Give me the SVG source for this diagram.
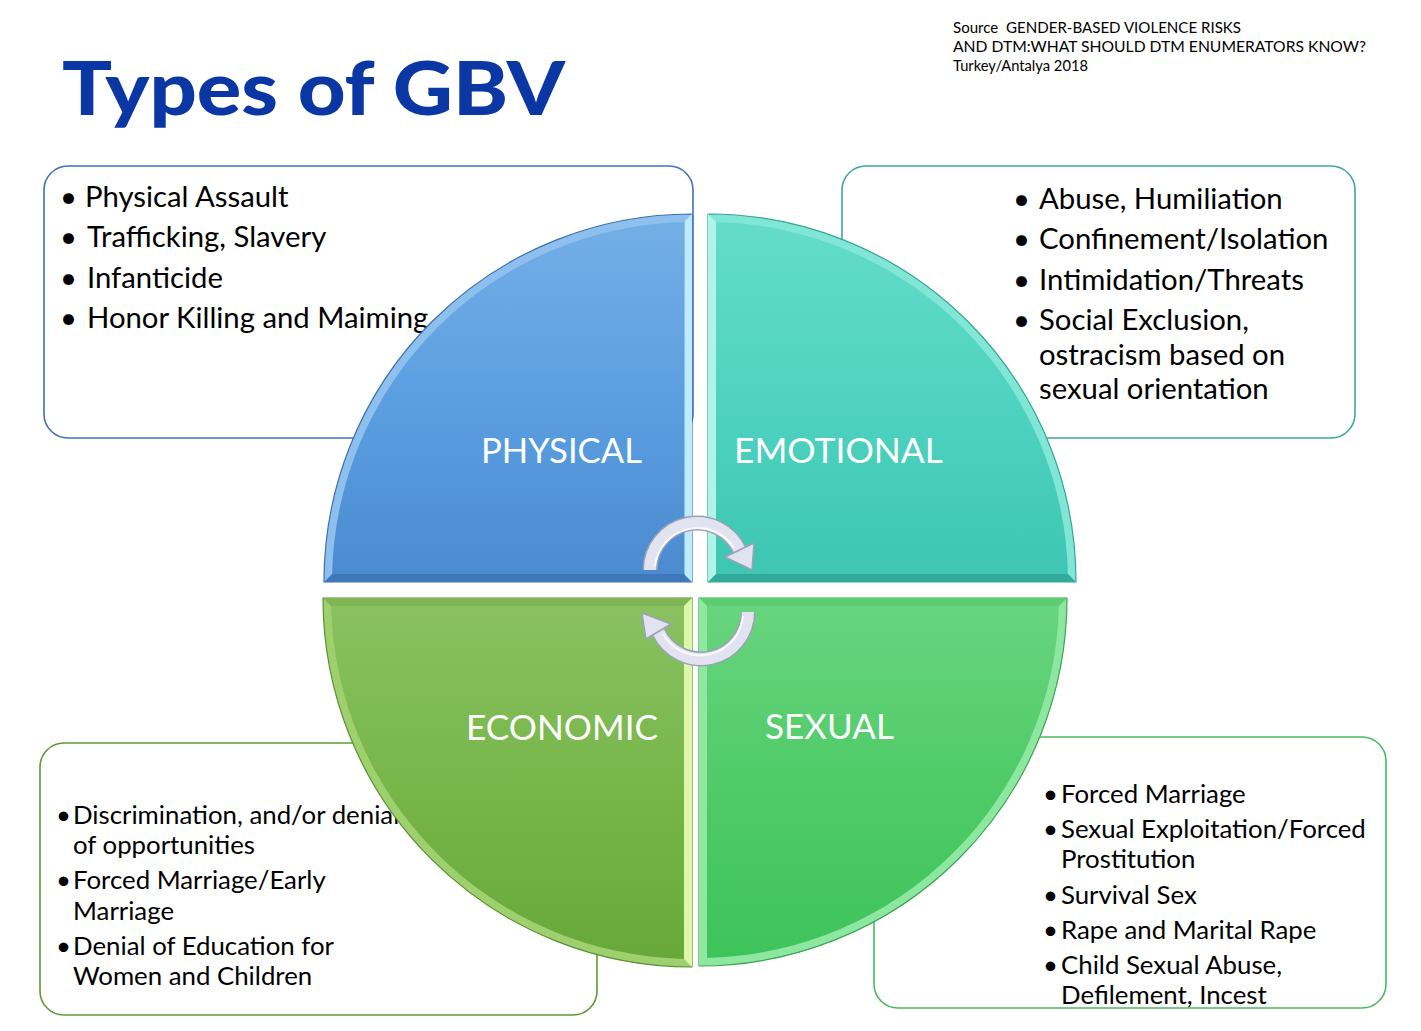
<svg xmlns="http://www.w3.org/2000/svg" width="1421" height="1031" viewBox="0 0 1421 1031">
<style>
.item{font-family:Lato,"Noto Sans","Liberation Sans",sans-serif;fill:#000;}
.big{font-size:29.3px;}
.small{font-size:25.8px;}
.lbl{font-family:Lato,"Noto Sans","Liberation Sans",sans-serif;font-size:34px;fill:#fff;}
.src{font-family:Lato,"Liberation Sans",sans-serif;font-size:14.5px;fill:#000;}
.box{fill:#fff;stroke-width:1.6;}
.arrow-out{fill:none;stroke:#9ca1b6;stroke-width:15;}
.arrow-in{fill:none;stroke:#e1e4f0;stroke-width:12;}
.arrow-hi{fill:none;stroke:#ffffff;stroke-width:2;opacity:0.8;}
.head{fill:#e1e4f0;stroke:#9ca1b6;stroke-width:1.5;stroke-linejoin:round;}
</style>
<defs>
<linearGradient id="gPhy" x1="0" y1="0" x2="0" y2="1"><stop offset="0" stop-color="#74aee6"/><stop offset="0.5" stop-color="#5b9fe1"/><stop offset="1" stop-color="#4b8bd0"/></linearGradient>
<linearGradient id="gEmo" x1="0" y1="0" x2="0" y2="1"><stop offset="0" stop-color="#64dcca"/><stop offset="0.5" stop-color="#4fd3c0"/><stop offset="1" stop-color="#3ec6b3"/></linearGradient>
<linearGradient id="gEco" x1="0" y1="0" x2="0" y2="1"><stop offset="0" stop-color="#89c161"/><stop offset="0.5" stop-color="#78b64a"/><stop offset="1" stop-color="#68a83a"/></linearGradient>
<linearGradient id="gSex" x1="0" y1="0" x2="0" y2="1"><stop offset="0" stop-color="#68d47f"/><stop offset="0.5" stop-color="#50cb68"/><stop offset="1" stop-color="#3ec35a"/></linearGradient>
</defs>
<rect width="1421" height="1031" fill="#fff"/>

<g id="title">
<text x="62" y="115" font-family="Lato,'Liberation Sans',sans-serif" font-weight="900" font-size="74" fill="#0a37a3" textLength="503" lengthAdjust="spacingAndGlyphs">Types of GBV</text>
</g>

<g id="source">
<text class="src" x="953" y="33" textLength="288" lengthAdjust="spacingAndGlyphs">Source&#160; GENDER-BASED VIOLENCE RISKS</text>
<text class="src" x="953" y="52" textLength="413" lengthAdjust="spacingAndGlyphs">AND DTM:WHAT SHOULD DTM ENUMERATORS KNOW?</text>
<text class="src" x="953" y="71" textLength="135" lengthAdjust="spacingAndGlyphs">Turkey/Antalya 2018</text>
</g>

<g id="box-physical">
<rect class="box" x="44" y="166" width="649" height="272" rx="24" stroke="#3f72b4"/>
<g class="item big">
<text x="60" y="207">•</text><text x="85" y="207">Physical Assault</text>
<text x="60" y="247">•</text><text x="87" y="247">Trafficking, Slavery</text>
<text x="60" y="288">•</text><text x="87" y="288">Infanticide</text>
<text x="60" y="328">•</text><text x="87" y="328">Honor Killing and Maiming</text>
</g>
</g>

<g id="box-emotional">
<rect class="box" x="842" y="166" width="513" height="272" rx="24" stroke="#3ea898"/>
<g class="item big">
<text x="1013" y="209">•</text><text x="1039" y="209">Abuse, Humiliation</text>
<text x="1013" y="249">•</text><text x="1039" y="249">Confinement/Isolation</text>
<text x="1013" y="290">•</text><text x="1039" y="290">Intimidation/Threats</text>
<text x="1013" y="330">•</text><text x="1039" y="330">Social Exclusion,</text>
<text x="1039" y="365">ostracism based on</text>
<text x="1039" y="399">sexual orientation</text>
</g>
</g>

<g id="box-economic">
<rect class="box" x="40" y="743" width="557" height="272" rx="24" stroke="#5f9a35"/>
<g class="item small">
<text x="56" y="824">•</text><text x="73" y="824">Discrimination, and/or denial</text>
<text x="73" y="854">of opportunities</text>
<text x="56" y="889">•</text><text x="73" y="889">Forced Marriage/Early</text>
<text x="73" y="920">Marriage</text>
<text x="56" y="955">•</text><text x="73" y="955">Denial of Education for</text>
<text x="73" y="985">Women and Children</text>
</g>
</g>

<g id="box-sexual">
<rect class="box" x="874" y="737" width="512" height="271" rx="24" stroke="#4db95f"/>
<g class="item small">
<text x="1043" y="803">•</text><text x="1061" y="803">Forced Marriage</text>
<text x="1043" y="838">•</text><text x="1061" y="838">Sexual Exploitation/Forced</text>
<text x="1061" y="868">Prostitution</text>
<text x="1043" y="904">•</text><text x="1061" y="904">Survival Sex</text>
<text x="1043" y="939">•</text><text x="1061" y="939">Rape and Marital Rape</text>
<text x="1043" y="974">•</text><text x="1061" y="974">Child Sexual Abuse,</text>
<text x="1061" y="1004">Defilement, Incest</text>
</g>
</g>

<g id="quad-physical">
<path d="M692,582 L324,582 A368,368 0 0 1 692,214 Z" fill="#8ec0ee" stroke="#3c6fae" stroke-width="1.2"/>
<polygon points="324,582 692,582 684,574 332.1,574" fill="#3f78b9"/>
<polygon points="692,582 692,214 685,221.1 685,575" fill="#bdeafc"/>
<path d="M684,574 L332.1,574 A360,360 0 0 1 684,222.1 Z" fill="url(#gPhy)"/>
<text class="lbl" x="481" y="463" textLength="161" lengthAdjust="spacingAndGlyphs">PHYSICAL</text>
</g>

<g id="quad-emotional">
<path d="M708,582 L708,214 A368,368 0 0 1 1076,582 Z" fill="#82e6d6" stroke="#2fa797" stroke-width="1.2"/>
<polygon points="708,582 708,214 716,222.1 716,574" fill="#b0f3e8"/>
<polygon points="708,582 1076,582 1067.9,574 716,574" fill="#32aa9a"/>
<path d="M716,574 L716,222.1 A360,360 0 0 1 1067.9,574 Z" fill="url(#gEmo)"/>
<text class="lbl" x="734" y="463" textLength="209" lengthAdjust="spacingAndGlyphs">EMOTIONAL</text>
</g>

<g id="quad-economic">
<path d="M692,598 L323,598 A369,369 0 0 0 692,967 Z" fill="#9ed06e" stroke="#5b8f33" stroke-width="1.2"/>
<polygon points="323,598 692,598 684,606 331.1,606" fill="#7fb653"/>
<polygon points="692,598 692,967 684,958.9 684,606" fill="#dcf7a8"/>
<path d="M684,606 L331.1,606 A361,361 0 0 0 684,958.9 Z" fill="url(#gEco)"/>
<text class="lbl" x="466" y="740" textLength="192" lengthAdjust="spacingAndGlyphs">ECONOMIC</text>
</g>

<g id="quad-sexual">
<path d="M699,598 L1067,598 A368,368 0 0 1 699,966 Z" fill="#8de7a0" stroke="#3aa552" stroke-width="1.2"/>
<polygon points="699,598 1067,598 1058.9,606 707,606" fill="#5ccd73"/>
<polygon points="699,598 699,966 707,957.9 707,606" fill="#8ee89f"/>
<path d="M707,606 L1058.9,606 A360,360 0 0 1 707,957.9 Z" fill="url(#gSex)"/>
<text class="lbl" x="765" y="739" textLength="129" lengthAdjust="spacingAndGlyphs">SEXUAL</text>
</g>

<g id="connectors">
<g id="arrow-top">
<path class="arrow-out" d="M650,570 A47,47 0 0 1 739.6,550.2"/>
<path class="arrow-in" d="M650,570 A47,47 0 0 1 739.6,550.2"/>
<path class="arrow-hi" d="M655,566 A43,43 0 0 1 734,548"/>
<polygon class="head" points="754,543 725,557 752,570"/>
</g>
<g id="arrow-bottom">
<path class="arrow-out" d="M748,612 A47,47 0 0 1 658.4,631.8"/>
<path class="arrow-in" d="M748,612 A47,47 0 0 1 658.4,631.8"/>
<path class="arrow-hi" d="M743,616 A43,43 0 0 1 663,634"/>
<polygon class="head" points="642,613 671,624 646,639"/>
</g>
</g>
</svg>
